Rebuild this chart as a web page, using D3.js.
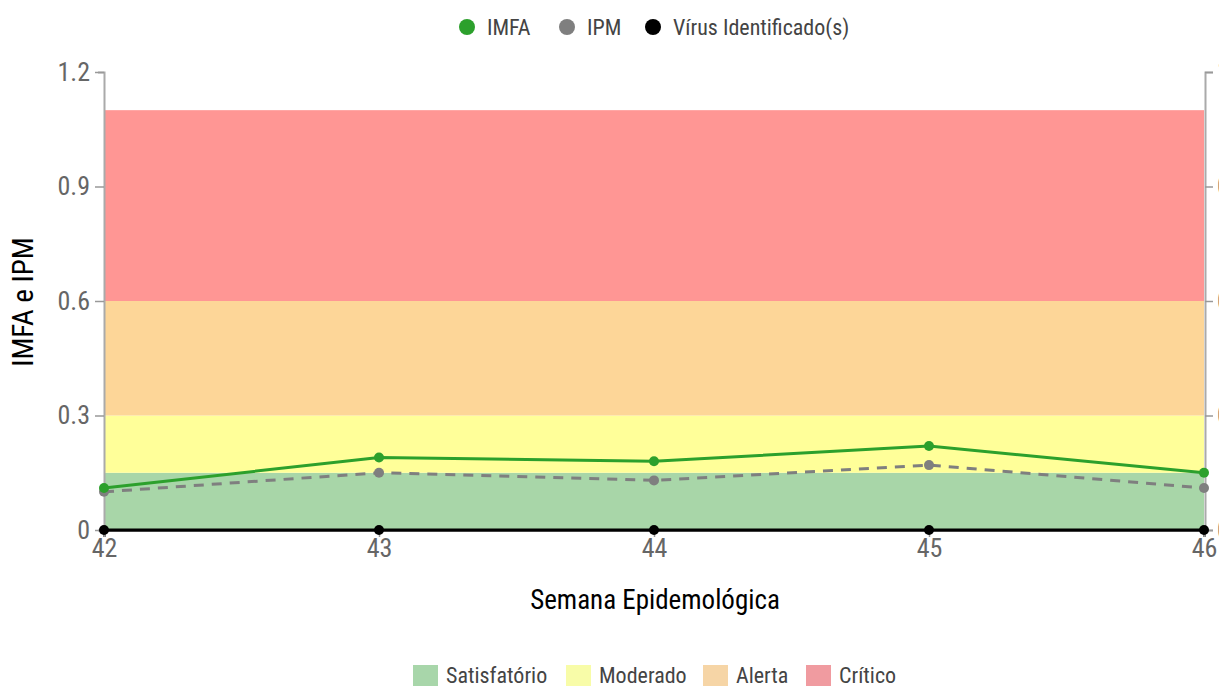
<!DOCTYPE html>
<html><head><meta charset="utf-8">
<script src="https://cdn.jsdelivr.net/npm/d3@7"></script>
<style>
body{margin:0;background:#fff;}
text{font-family:"Roboto Condensed","Liberation Sans Narrow","Roboto",sans-serif;}
</style></head>
<body><svg id="c" width="1219" height="686"></svg>
<script>
const weeks = [42, 43, 44, 45, 46];
const imfa = [0.11, 0.19, 0.18, 0.22, 0.15];
const ipm = [0.10, 0.15, 0.13, 0.17, 0.11];
const virus = [0, 0, 0, 0, 0];
const yTicks = [0, 0.3, 0.6, 0.9, 1.2];
const bandNames = ["Satisfatório", "Moderado", "Alerta", "Crítico"];
const bandFrom = [0, 0.15, 0.3, 0.6];
const bandTo = [0.15, 0.3, 0.6, 1.1];
const bandColors = ["#a8d6a8", "#ffff99", "#fdd698", "#ff9694"];
const bandLegendColors = ["#a8d6aa", "#f8fca8", "#f6d5a6", "#f09ba0"];
const seriesNames = ["IMFA", "IPM", "Vírus Identificado(s)"];
const seriesColors = ["#2ca02c", "#7f7f7f", "#000000"];

const svg = d3.select("#c");
const L = 104, R = 1204, T = 72, B = 530;
const x = d3.scaleLinear().domain([42, 46]).range([L, R]);
const y = d3.scaleLinear().domain([0, 1.2]).range([B, T]);
const fmt = d => d === 0 ? "0" : d3.format(".1f")(d);

// bands
svg.append("g").selectAll("rect").data(bandNames).join("rect")
  .attr("x", L).attr("width", R - L)
  .attr("y", (d, i) => y(bandTo[i]))
  .attr("height", (d, i) => y(bandFrom[i]) - y(bandTo[i]))
  .attr("fill", (d, i) => bandColors[i]);

// left axis
const ya = svg.append("g").attr("transform", `translate(${L},0)`)
  .call(d3.axisLeft(y).tickValues(yTicks).tickFormat(fmt).tickSize(9).tickSizeOuter(6).tickPadding(5));
ya.select(".domain").attr("stroke", "#aaa").attr("stroke-width", 2);
ya.selectAll(".tick line").attr("stroke", "#999").attr("stroke-width", 1.5);
ya.selectAll(".tick text").attr("fill", "#666").style("font-size", "26px");

// right axis
const yr = svg.append("g").attr("transform", `translate(${R + 1},0)`)
  .call(d3.axisRight(y).tickValues(yTicks).tickFormat(fmt).tickSize(8).tickSizeOuter(8).tickPadding(4));
yr.select(".domain").attr("stroke", "#aaa").attr("stroke-width", 2);
yr.selectAll(".tick line").attr("stroke", "#999").attr("stroke-width", 1.5);
yr.selectAll(".tick text").attr("fill", "#666").style("font-size", "26px");

// x axis
const xa = svg.append("g").attr("transform", `translate(0,${B})`)
  .call(d3.axisBottom(x).tickValues(weeks).tickFormat(d3.format("d")).tickSize(7).tickPadding(2));
xa.select(".domain").attr("stroke", "#000").attr("stroke-width", 2);
xa.selectAll(".tick line").attr("stroke", "#999").attr("stroke-width", 1.5);
xa.selectAll(".tick text").attr("fill", "#666").style("font-size", "26px");

// lines
const line = vals => d3.line().x((d, i) => x(weeks[i])).y(d => y(d))(vals);
svg.append("path").attr("d", line(virus)).attr("fill", "none").attr("stroke", seriesColors[2]).attr("stroke-width", 3);
svg.append("path").attr("d", line(ipm)).attr("fill", "none").attr("stroke", seriesColors[1]).attr("stroke-width", 3).attr("stroke-dasharray", "10,8");
svg.append("path").attr("d", line(imfa)).attr("fill", "none").attr("stroke", seriesColors[0]).attr("stroke-width", 3);

[[virus, 2], [ipm, 1], [imfa, 0]].forEach(([vals, k]) => {
  svg.append("g").selectAll("circle").data(vals).join("circle")
    .attr("cx", (d, i) => x(weeks[i])).attr("cy", d => y(d)).attr("r", 5)
    .attr("fill", seriesColors[k]);
});

// axis titles
svg.append("text").attr("x", 655).attr("y", 609).attr("text-anchor", "middle")
  .style("font-size", "27px").attr("fill", "#000").text("Semana Epidemológica");
svg.append("text").attr("transform", `translate(33,302) rotate(-90)`).attr("text-anchor", "middle")
  .style("font-size", "29px").attr("fill", "#000").text("IMFA e IPM");

// top legend
const topX = [467, 567, 653];
const tl = svg.append("g").selectAll("g").data(seriesNames).join("g")
  .attr("transform", (d, i) => `translate(${topX[i]},27)`);
tl.append("circle").attr("r", 8).attr("fill", (d, i) => seriesColors[i]);
tl.append("text").attr("x", 20).attr("y", 7.5).style("font-size", "22px").attr("fill", "#444").text(d => d);

// bottom legend
const botX = [413, 566, 703, 806];
const bl = svg.append("g").selectAll("g").data(bandNames).join("g")
  .attr("transform", (d, i) => `translate(${botX[i]},665)`);
bl.append("rect").attr("width", 25).attr("height", 21).attr("fill", (d, i) => bandLegendColors[i]);
bl.append("text").attr("x", 33).attr("y", 18).style("font-size", "22px").attr("fill", "#444").text(d => d);
</script></body></html>
